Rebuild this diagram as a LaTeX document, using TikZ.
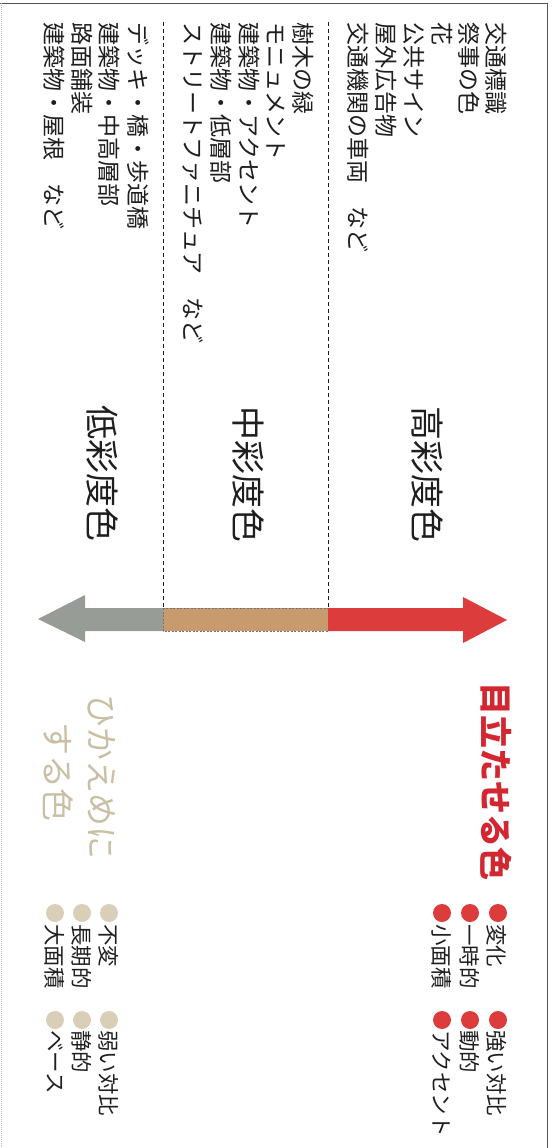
\documentclass[tikz,border=0pt]{standalone}
\usepackage{fontspec}
\newfontfamily\cjk{Noto Sans CJK JP}
\definecolor{arrred}{HTML}{DC3C3C}
\definecolor{arrbrown}{HTML}{C89B6E}
\definecolor{arrgray}{HTML}{979C97}
\definecolor{txtred}{HTML}{D22630}
\definecolor{txtbeige}{HTML}{C8BFA5}
\definecolor{dotbeige}{HTML}{D9CFB8}
\definecolor{txtdark}{HTML}{1E1E1E}
\definecolor{framegray}{HTML}{555555}
\tikzset{
  vt/.style={rotate=-90, anchor=west, inner sep=0pt, text=txtdark,
    font=\cjk\fontsize{23}{27}\selectfont},
  bt/.style={rotate=-90, anchor=west, inner sep=0pt, text=txtdark,
    font=\cjk\fontsize{21.5}{26}\selectfont},
  biglabel/.style={rotate=-90, anchor=center, inner sep=0pt, text=txtdark,
    font=\cjk\fontsize{34}{40}\selectfont},
  sidelabel/.style={rotate=-90, anchor=center, inner sep=0pt,
    font=\cjk\fontsize{33}{38}\selectfont},
  divider/.style={draw=txtdark, line width=0.8pt, dash pattern=on 4pt off 3pt},
  reddot/.style={circle, fill=arrred, minimum size=18pt, inner sep=0pt},
  beigedot/.style={circle, fill=dotbeige, minimum size=18pt, inner sep=0pt},
}
\begin{document}
\begin{tikzpicture}[x=1pt,y=-1pt]
\useasboundingbox (0,0) rectangle (554,1148);
% frame
\draw[framegray, line width=0.9pt] (0,3) -- (547,3) -- (547,1148);
\draw[black!25, line width=0.6pt, dash pattern=on 1pt off 1pt] (1,3) -- (1,1148);

% dividers
\coordinate (d1t) at (328,22);
\coordinate (d1b) at (328,608);
\coordinate (d2t) at (163,22);
\coordinate (d2b) at (163,608);
\draw[divider] (d1t) -- (d1b);
\draw[divider] (d2t) -- (d2b);

% top section: high chroma examples
\node[vt] (a1) at (496,22) {交通標識};
\node[vt] (a2) at (469,22) {祭事の色};
\node[vt] (a3) at (442,22) {花};
\node[vt] (a4) at (414,22) {公共サイン};
\node[vt] (a5) at (386,22) {屋外広告物};
\node[vt] (a6) at (358,22) {交通機関の車両　など};

% middle section
\node[vt] (b1) at (303,22) {樹木の緑};
\node[vt] (b2) at (276,22) {モニュメント};
\node[vt] (b3) at (249,22) {建築物・アクセント};
\node[vt] (b4) at (221,22) {建築物・低層部};
\node[vt] (b5) at (193,22) {ストリートファニチュア　など};

% low section
\node[vt] (c1) at (138,22) {デッキ・橋・歩道橋};
\node[vt] (c2) at (109,22) {建築物・中高層部};
\node[vt] (c3) at (82,22) {路面舗装};
\node[vt] (c4) at (54,22) {建築物・屋根　など};

% big labels
\node[biglabel] (hi) at (427,474) {高彩度色};
\node[biglabel] (mid) at (248,474) {中彩度色};
\node[biglabel] (lo) at (102,473) {低彩度色};

% arrow
\fill[arrgray] (38,619) -- (85,595) -- (85,608) -- (163,608) -- (163,631) -- (85,631) -- (85,642) -- cycle;
\filldraw[fill=arrbrown, draw=black!55, line width=0.5pt, dash pattern=on 2pt off 1.5pt] (163,608) rectangle (328,631);
\fill[arrred] (328,608) -- (463,608) -- (463,597) -- (507,620) -- (463,643) -- (463,631) -- (328,631) -- cycle;

% side labels
\node[sidelabel, text=txtred, font=\cjk\bfseries\fontsize{33}{38}\selectfont] (loud) at (496,781) {目立たせる色};
\node[sidelabel, text=txtbeige] (quiet1) at (102,777) {ひかえめに};
\node[sidelabel, text=txtbeige] (quiet2) at (58,772) {する色};

% red bullet list
\node[reddot] (r1d) at (498,913) {};
\node[bt] (r1) at (497,924) {変化};
\node[reddot] (r2d) at (470,913) {};
\node[bt] (r2) at (470,924) {一時的};
\node[reddot] (r3d) at (442,913) {};
\node[bt] (r3) at (442,924) {小面積};
\node[reddot] (r4d) at (498,1020) {};
\node[bt] (r4) at (497,1030) {強い対比};
\node[reddot] (r5d) at (470,1020) {};
\node[bt] (r5) at (470,1030) {動的};
\node[reddot] (r6d) at (442,1020) {};
\node[bt] (r6) at (442,1030) {アクセント};

% beige bullet list
\node[beigedot] (g1d) at (109,913) {};
\node[bt] (g1) at (109,924) {不変};
\node[beigedot] (g2d) at (82,913) {};
\node[bt] (g2) at (82,924) {長期的};
\node[beigedot] (g3d) at (55,913) {};
\node[bt] (g3) at (55,924) {大面積};
\node[beigedot] (g4d) at (109,1020) {};
\node[bt] (g4) at (109,1030) {弱い対比};
\node[beigedot] (g5d) at (82,1020) {};
\node[bt] (g5) at (82,1030) {静的};
\node[beigedot] (g6d) at (55,1020) {};
\node[bt] (g6) at (55,1030) {ベース};
\end{tikzpicture}
\end{document}
